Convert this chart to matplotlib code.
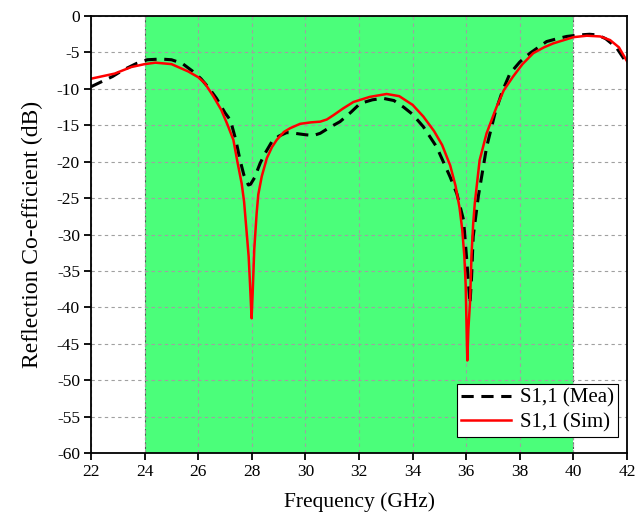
import matplotlib.pyplot as plt

# Measured S11 (GHz, dB)
f_mea = [22.0, 22.4, 22.8, 23.2, 23.7, 24.1, 24.6, 25.0, 25.4, 25.8, 26.1, 26.4,
         26.68, 27.0, 27.2, 27.4, 27.56, 27.7, 27.87, 27.95, 28.1, 28.31, 28.5,
         28.74, 29.0, 29.3, 29.6, 30.0, 30.3, 30.55, 30.9, 31.29, 31.7, 32.04,
         32.5, 32.9, 33.3, 33.66, 34.0, 34.4, 34.9, 35.4, 35.65, 35.9, 36.02,
         36.1, 36.14, 36.2, 36.26, 36.45, 36.76, 37.07, 37.35, 37.63, 38.0,
         38.38, 39.0, 39.4, 39.75, 40.2, 40.6, 40.9, 41.2, 41.6, 42.0]
s_mea = [-9.7, -9.0, -8.3, -7.4, -6.5, -6.0, -5.9, -6.0, -6.5, -7.6, -8.6, -9.9,
         -11.3, -13.3, -14.3, -17.0, -19.8, -21.8, -23.2, -23.1, -22.2, -20.2,
         -18.8, -17.3, -16.5, -16.0, -16.1, -16.3, -16.4, -16.1, -15.3, -14.5,
         -13.2, -12.0, -11.5, -11.3, -11.6, -12.5, -13.5, -15.2, -18.0, -22.1,
         -24.4, -28.0, -33.5, -37.5, -39.5, -35.8, -30.3, -24.8, -18.0, -13.4,
         -10.3, -7.9, -6.3, -5.1, -3.5, -3.1, -2.8, -2.6, -2.5, -2.6, -3.1,
         -4.3, -6.5]

# Simulated S11 (GHz, dB)
f_sim = [22.0, 22.88, 23.5, 24.0, 24.4, 25.0, 25.62, 26.0, 26.24, 26.56, 26.86,
         27.1, 27.31, 27.46, 27.62, 27.71, 27.81, 27.88, 27.93, 27.99, 28.03,
         28.09, 28.18, 28.24, 28.37, 28.56, 28.75, 28.93, 29.2, 29.43, 29.8,
         30.2, 30.55, 30.8, 31.05, 31.4, 31.79, 32.4, 33.03, 33.5, 34.0, 34.4,
         34.8, 35.1, 35.4, 35.6, 35.75, 35.85, 35.93, 35.98, 36.02, 36.04,
         36.08, 36.14, 36.2, 36.26, 36.32, 36.5, 36.76, 37.13, 37.4, 37.75,
         38.1, 38.5, 38.9, 39.25, 40.0, 40.5, 41.0, 41.37, 41.7, 42.0]
s_sim = [-8.6, -7.9, -7.0, -6.6, -6.4, -6.6, -7.6, -8.4, -9.2, -11.0, -12.9,
         -15.0, -17.0, -20.0, -23.0, -25.5, -29.9, -33.0, -36.7, -41.5, -38.0,
         -32.0, -27.0, -24.5, -22.0, -19.5, -18.0, -17.0, -15.9, -15.4, -14.8,
         -14.6, -14.5, -14.2, -13.6, -12.7, -11.8, -11.1, -10.7, -11.0, -12.2,
         -13.8, -15.8, -17.7, -20.5, -23.3, -26.3, -29.3, -33.0, -37.0, -44.0,
         -47.3, -43.0, -39.4, -32.6, -28.5, -25.7, -19.8, -16.1, -12.5, -10.2,
         -8.3, -6.6, -5.1, -4.3, -3.75, -2.9, -2.7, -2.8, -3.3, -4.3, -6.2]

band = (24, 40)
x_ticks = list(range(22, 43, 2))
y_ticks = list(range(-60, 1, 5))

plt.rcParams['font.family'] = 'Liberation Serif'
plt.rcParams['axes.unicode_minus'] = False

fig = plt.figure(figsize=(6.37, 5.18), dpi=100)
ax = fig.add_axes([0.143, 0.1255, 0.8413, 0.8435])

ax.axvspan(band[0], band[1], color='#4bfe7a', zorder=0, lw=0)
for b in band:
    ax.axvline(b, color='#555555', lw=0.8, ls=(0, (2, 2)), zorder=1)

ax.plot(f_mea, s_mea, color='black', lw=2.2, ls=(0, (4, 2.5)), label='S1,1 (Mea)', zorder=3)
ax.plot(f_sim, s_sim, color='#ff0000', lw=1.8, label='S1,1 (Sim)', zorder=4)

ax.set_xlim(22, 42)
ax.set_ylim(-60, 0)
ax.set_xticks(x_ticks)
ax.set_yticks(y_ticks)
ax.grid(True, color='#a0a0a0', ls=(0, (3, 3)), lw=0.8, zorder=2)
ax.set_axisbelow(False)

for s in ax.spines.values():
    s.set_linewidth(1.3)
    s.set_zorder(5)
ax.tick_params(direction='out', length=5, width=1.3, labelsize=12.5, pad=3)

ax.set_xlabel('Frequency (GHz)', fontsize=15.5, labelpad=9)
ax.set_ylabel('Reflection Co-efficient (dB)', fontsize=17, labelpad=10)

leg = ax.legend(loc='lower right', bbox_to_anchor=(0.983, 0.037), fontsize=15,
                fancybox=False, framealpha=1, edgecolor='black', borderaxespad=0,
                handlelength=2.4, borderpad=0.2, labelspacing=0.25, handletextpad=0.4)
leg.get_frame().set_linewidth(0.8)

fig.savefig('out.png', dpi=100)
